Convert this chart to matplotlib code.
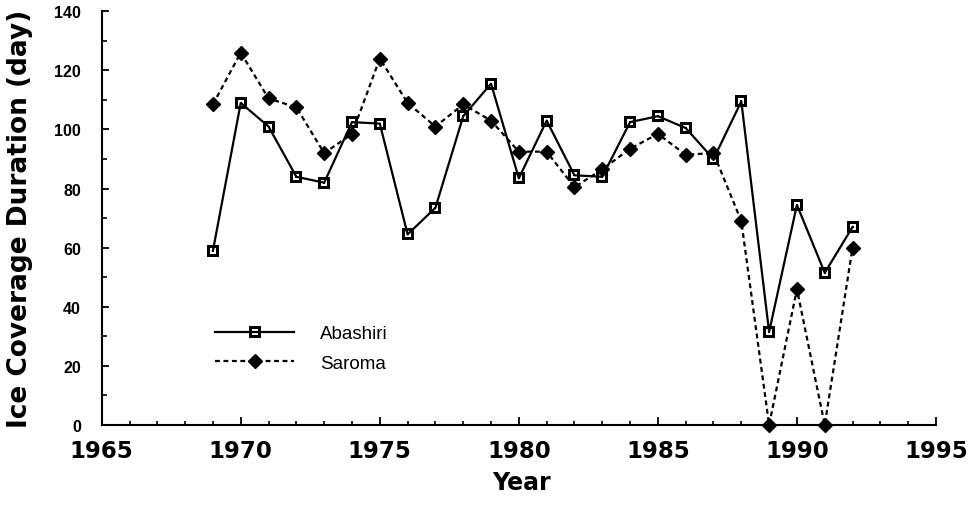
import numpy as np
import matplotlib
matplotlib.use("Agg")
import matplotlib.pyplot as plt
from matplotlib.path import Path
from matplotlib.ticker import MultipleLocator

years = list(range(1969, 1993))
abashiri = [59, 109, 101, 84, 82, 102.5, 102, 64.5, 73.5, 104.5, 115.5, 83.5,
            103, 84.5, 84, 102.5, 104.5, 100.5, 90, 109.5, 31.5, 74.5, 51.5, 67]
saroma = [108.5, 126, 110.5, 107.5, 92, 98.5, 124, 109, 101, 108.5, 103, 92.5,
          92.5, 80.5, 86.5, 93.5, 98.5, 91.5, 92, 69, 0, 46, 0, 60]
x_ticks = [1965, 1970, 1975, 1980, 1985, 1990, 1995]
y_ticks = [0, 20, 40, 60, 80, 100, 120, 140]

FAM = ['Liberation Sans', 'DejaVu Sans']
BIG = ['DejaVu Sans']
plt.rcParams['font.family'] = FAM

# square marker with hollow centre and a small dot
def sq(h):
    return [(-h, -h), (h, -h), (h, h), (-h, h), (-h, -h)]
outer = sq(1.0)
inner = sq(0.5)[::-1]
dot = sq(0.17)
verts = outer + inner + dot
codes = ([Path.MOVETO] + [Path.LINETO] * 3 + [Path.CLOSEPOLY]) * 3
sq_marker = Path(verts, codes)

fig = plt.figure(figsize=(9.77, 5.06), dpi=100)
ax = fig.add_axes([0.1041, 0.1581, 0.8539, 0.8176])

ax.plot(years, saroma, linestyle=(0, (2.2, 1.6)), color='black', lw=1.6,
        marker='D', markersize=7.3, markerfacecolor='black', markeredgecolor='black',
        clip_on=False, zorder=3, label='Saroma')
ax.plot(years, abashiri, linestyle='-', color='black', lw=1.6,
        marker=sq_marker, markersize=8.5, markerfacecolor='black', markeredgewidth=0,
        clip_on=False, zorder=4, label='Abashiri')

ax.set_xlim(1965, 1995)
ax.set_ylim(0, 140)
for s in ['top', 'right']:
    ax.spines[s].set_visible(False)
for s in ['left', 'bottom']:
    ax.spines[s].set_linewidth(1.5)

ax.set_xticks(x_ticks)
ax.xaxis.set_minor_locator(MultipleLocator(1))
ax.set_yticks(y_ticks)
ax.yaxis.set_minor_locator(MultipleLocator(10))

ax.tick_params(axis='x', which='major', direction='in', length=6, width=1.3, pad=10,
               labelsize=16.5)
ax.tick_params(axis='x', which='minor', direction='in', length=3, width=1.2)
ax.tick_params(axis='y', which='major', direction='in', length=5, width=1.3, pad=15,
               labelsize=11.5)
ax.tick_params(axis='y', which='minor', direction='in', length=3.5, width=1.2)
for lab in ax.get_xticklabels():
    lab.set_fontweight('bold')
    lab.set_family(BIG)
for lab in ax.get_yticklabels():
    lab.set_fontweight('bold')

fig.text(20 / 977, 0.567, 'Ice Coverage Duration (day)', rotation=90,
         ha='center', va='center', fontsize=19, fontweight='bold', family=BIG)
fig.text(521 / 977, 1 - 483 / 506, 'Year', ha='center', va='center',
         fontsize=17, fontweight='bold', family=BIG)

h, l = ax.get_legend_handles_labels()
leg = ax.legend(h[::-1], l[::-1], loc='center left', bbox_to_anchor=(0.136, 0.185),
                frameon=False, fontsize=13.5, handlelength=4.2, handletextpad=1.4,
                labelspacing=0.65, borderpad=0, borderaxespad=0)

fig.savefig('out.png', dpi=100)
